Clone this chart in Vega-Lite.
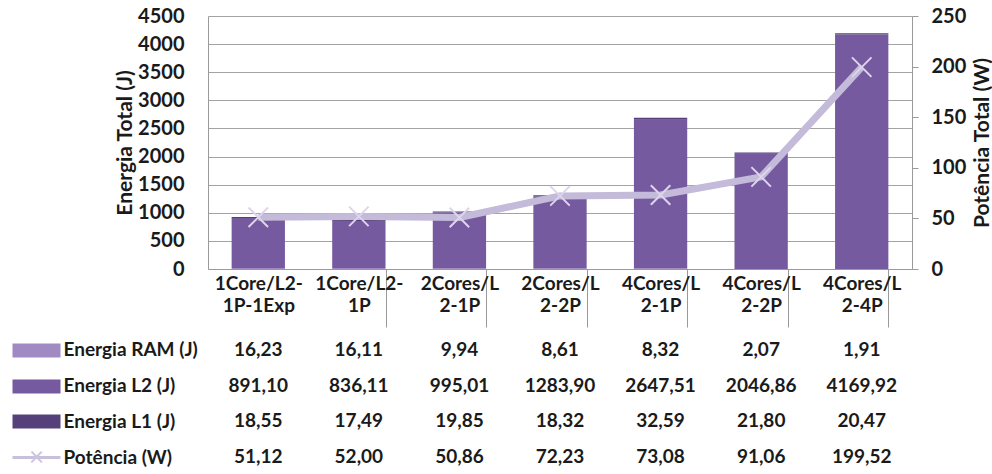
{
  "$schema": "https://vega.github.io/schema/vega-lite/v6.json",
  "background": "white",
  "padding": {"left": 5, "top": 6, "right": 0, "bottom": 0},
  "spacing": 4,
  "config": {
    "font": "Lato",
    "view": {"stroke": null},
    "locale": {"number": {"decimal": ",", "thousands": ".", "grouping": [3], "currency": ["", ""]}},
    "axis": {
      "labelFont": "Lato", "labelFontWeight": "bold", "labelFontSize": 20, "labelColor": "#1a1a1a",
      "titleFont": "Lato", "titleFontWeight": "bold", "titleFontSize": 21, "titleColor": "#1a1a1a",
      "domainColor": "#9a9a9a", "tickColor": "#9a9a9a", "gridColor": "#a3a3a3"
    }
  },
  "datasets": {
    "t": [
      {"cat": "1Core/L2-1P-1Exp", "serie": "Energia RAM (J)", "v": 16.23},
      {"cat": "1Core/L2-1P", "serie": "Energia RAM (J)", "v": 16.11},
      {"cat": "2Cores/L2-1P", "serie": "Energia RAM (J)", "v": 9.94},
      {"cat": "2Cores/L2-2P", "serie": "Energia RAM (J)", "v": 8.61},
      {"cat": "4Cores/L2-1P", "serie": "Energia RAM (J)", "v": 8.32},
      {"cat": "4Cores/L2-2P", "serie": "Energia RAM (J)", "v": 2.07},
      {"cat": "4Cores/L2-4P", "serie": "Energia RAM (J)", "v": 1.91},
      {"cat": "1Core/L2-1P-1Exp", "serie": "Energia L2 (J)", "v": 891.10},
      {"cat": "1Core/L2-1P", "serie": "Energia L2 (J)", "v": 836.11},
      {"cat": "2Cores/L2-1P", "serie": "Energia L2 (J)", "v": 995.01},
      {"cat": "2Cores/L2-2P", "serie": "Energia L2 (J)", "v": 1283.90},
      {"cat": "4Cores/L2-1P", "serie": "Energia L2 (J)", "v": 2647.51},
      {"cat": "4Cores/L2-2P", "serie": "Energia L2 (J)", "v": 2046.86},
      {"cat": "4Cores/L2-4P", "serie": "Energia L2 (J)", "v": 4169.92},
      {"cat": "1Core/L2-1P-1Exp", "serie": "Energia L1 (J)", "v": 18.55},
      {"cat": "1Core/L2-1P", "serie": "Energia L1 (J)", "v": 17.49},
      {"cat": "2Cores/L2-1P", "serie": "Energia L1 (J)", "v": 19.85},
      {"cat": "2Cores/L2-2P", "serie": "Energia L1 (J)", "v": 18.32},
      {"cat": "4Cores/L2-1P", "serie": "Energia L1 (J)", "v": 32.59},
      {"cat": "4Cores/L2-2P", "serie": "Energia L1 (J)", "v": 21.80},
      {"cat": "4Cores/L2-4P", "serie": "Energia L1 (J)", "v": 20.47},
      {"cat": "1Core/L2-1P-1Exp", "serie": "Potência (W)", "v": 51.12},
      {"cat": "1Core/L2-1P", "serie": "Potência (W)", "v": 52.00},
      {"cat": "2Cores/L2-1P", "serie": "Potência (W)", "v": 50.86},
      {"cat": "2Cores/L2-2P", "serie": "Potência (W)", "v": 72.23},
      {"cat": "4Cores/L2-1P", "serie": "Potência (W)", "v": 73.08},
      {"cat": "4Cores/L2-2P", "serie": "Potência (W)", "v": 91.06},
      {"cat": "4Cores/L2-4P", "serie": "Potência (W)", "v": 199.52}
    ]
  },
  "vconcat": [
    {
      "width": 704,
      "height": 253,
      "data": {"name": "t"},
      "encoding": {
        "x": {
          "field": "cat", "type": "nominal",
          "sort": ["1Core/L2-1P-1Exp", "1Core/L2-1P", "2Cores/L2-1P", "2Cores/L2-2P", "4Cores/L2-1P", "4Cores/L2-2P", "4Cores/L2-4P"],
          "scale": {"paddingInner": 0.47, "paddingOuter": 0.235},
          "axis": {
            "title": null,
            "labelAngle": 0,
            "labelFontSize": 19,
            "labelExpr": "indexof(datum.label, 'Cores') > 0 ? [slice(datum.label, 0, 8), slice(datum.label, 8)] : [slice(datum.label, 0, 9), slice(datum.label, 9)]",
            "labelLineHeight": 22,
            "labelPadding": -53,
            "labelBaseline": "top",
            "tickBand": "extent",
            "tickSize": 58,
            "tickOpacity": {"condition": {"test": "datum.value == '1Core/L2-1P-1Exp' || datum.extra", "value": 0}, "value": 1},
            "grid": false
          }
        }
      },
      "layer": [
        {
          "transform": [{"filter": "datum.serie != 'Potência (W)'"}],
          "mark": {"type": "bar"},
          "encoding": {
            "y": {
              "field": "v", "type": "quantitative", "stack": "zero",
              "scale": {"domain": [0, 4500], "nice": false},
              "axis": {
                "title": "Energia Total (J)",
                "values": [0, 500, 1000, 1500, 2000, 2500, 3000, 3500, 4000, 4500],
                "format": "d",
                "ticks": false,
                "labelPadding": 24,
                "titlePadding": 2,
                "grid": true
              }
            },
            "color": {
              "field": "serie", "type": "nominal",
              "scale": {
                "domain": ["Energia RAM (J)", "Energia L2 (J)", "Energia L1 (J)"],
                "range": ["#a08ac3", "#765a9f", "#56407a"]
              },
              "legend": null
            },
            "order": {"field": "serie", "sort": "descending"}
          }
        },
        {
          "transform": [{"filter": "datum.serie == 'Potência (W)'"}],
          "encoding": {
            "y": {
              "field": "v", "type": "quantitative",
              "scale": {"domain": [0, 250], "nice": false},
              "axis": {
                "orient": "right",
                "title": "Potência Total (W)",
                "titleAngle": 270,
                "titleBaseline": "top",
                "values": [0, 50, 100, 150, 200, 250],
                "format": "d",
                "tickSize": 6,
                "labelPadding": 13,
                "titlePadding": 6,
                "grid": false
              }
            }
          },
          "layer": [
            {"mark": {"type": "line", "color": "#c4bad9", "strokeWidth": 7, "strokeJoin": "round"}},
            {"mark": {"type": "point", "shape": "M-1,-1L1,1M-1,1L1,-1", "filled": false, "stroke": "#dcd5ec", "strokeWidth": 2, "size": 380, "opacity": 1}}
          ]
        }
      ],
      "resolve": {"scale": {"y": "independent"}}
    },
    {
      "width": 704,
      "height": 143,
      "data": {"name": "t"},
      "encoding": {
        "x": {
          "field": "cat", "type": "nominal",
          "sort": ["1Core/L2-1P-1Exp", "1Core/L2-1P", "2Cores/L2-1P", "2Cores/L2-2P", "4Cores/L2-1P", "4Cores/L2-2P", "4Cores/L2-4P"],
          "axis": null
        }
      },
      "layer": [
        {
          "mark": {"type": "text", "font": "Lato", "fontSize": 19, "fontWeight": "bold", "color": "#1a1a1a"},
          "encoding": {
            "y": {
              "field": "serie", "type": "nominal",
              "sort": ["Energia RAM (J)", "Energia L2 (J)", "Energia L1 (J)", "Potência (W)"],
              "axis": {
                "orient": "left", "title": null, "domain": false, "ticks": false,
                "labelAlign": "left", "labelPadding": 145, "labelFontSize": 19
              }
            },
            "text": {"field": "v", "type": "quantitative", "format": ".2f"}
          }
        },
        {
          "mark": {"type": "text", "opacity": 0},
          "encoding": {
            "y": {
              "field": "serie", "type": "nominal",
              "sort": ["Energia RAM (J)", "Energia L2 (J)", "Energia L1 (J)", "Potência (W)"],
              "axis": {
                "orient": "left", "offset": 148, "title": null, "domain": false,
                "ticks": true, "tickSize": 48, "tickCap": "butt",
                "tickWidth": {"condition": {"test": "datum.value == 'Potência (W)'", "value": 3}, "value": 14},
                "tickColor": {
                  "condition": [
                    {"test": "datum.value == 'Energia RAM (J)'", "value": "#a08ac3"},
                    {"test": "datum.value == 'Energia L2 (J)'", "value": "#765a9f"},
                    {"test": "datum.value == 'Energia L1 (J)'", "value": "#56407a"}
                  ],
                  "value": "#c9c0de"
                },
                "tickOpacity": 1,
                "labelExpr": "datum.value == 'Potência (W)' ? '×' : ''",
                "labelAlign": "center",
                "labelPadding": -24,
                "labelColor": "#cdc4e2",
                "labelFontSize": 26,
                "labelFontWeight": "normal"
              }
            },
            "text": {"value": ""}
          }
        }
      ],
      "resolve": {"scale": {"y": "independent"}, "axis": {"y": "independent"}}
    }
  ]
}
